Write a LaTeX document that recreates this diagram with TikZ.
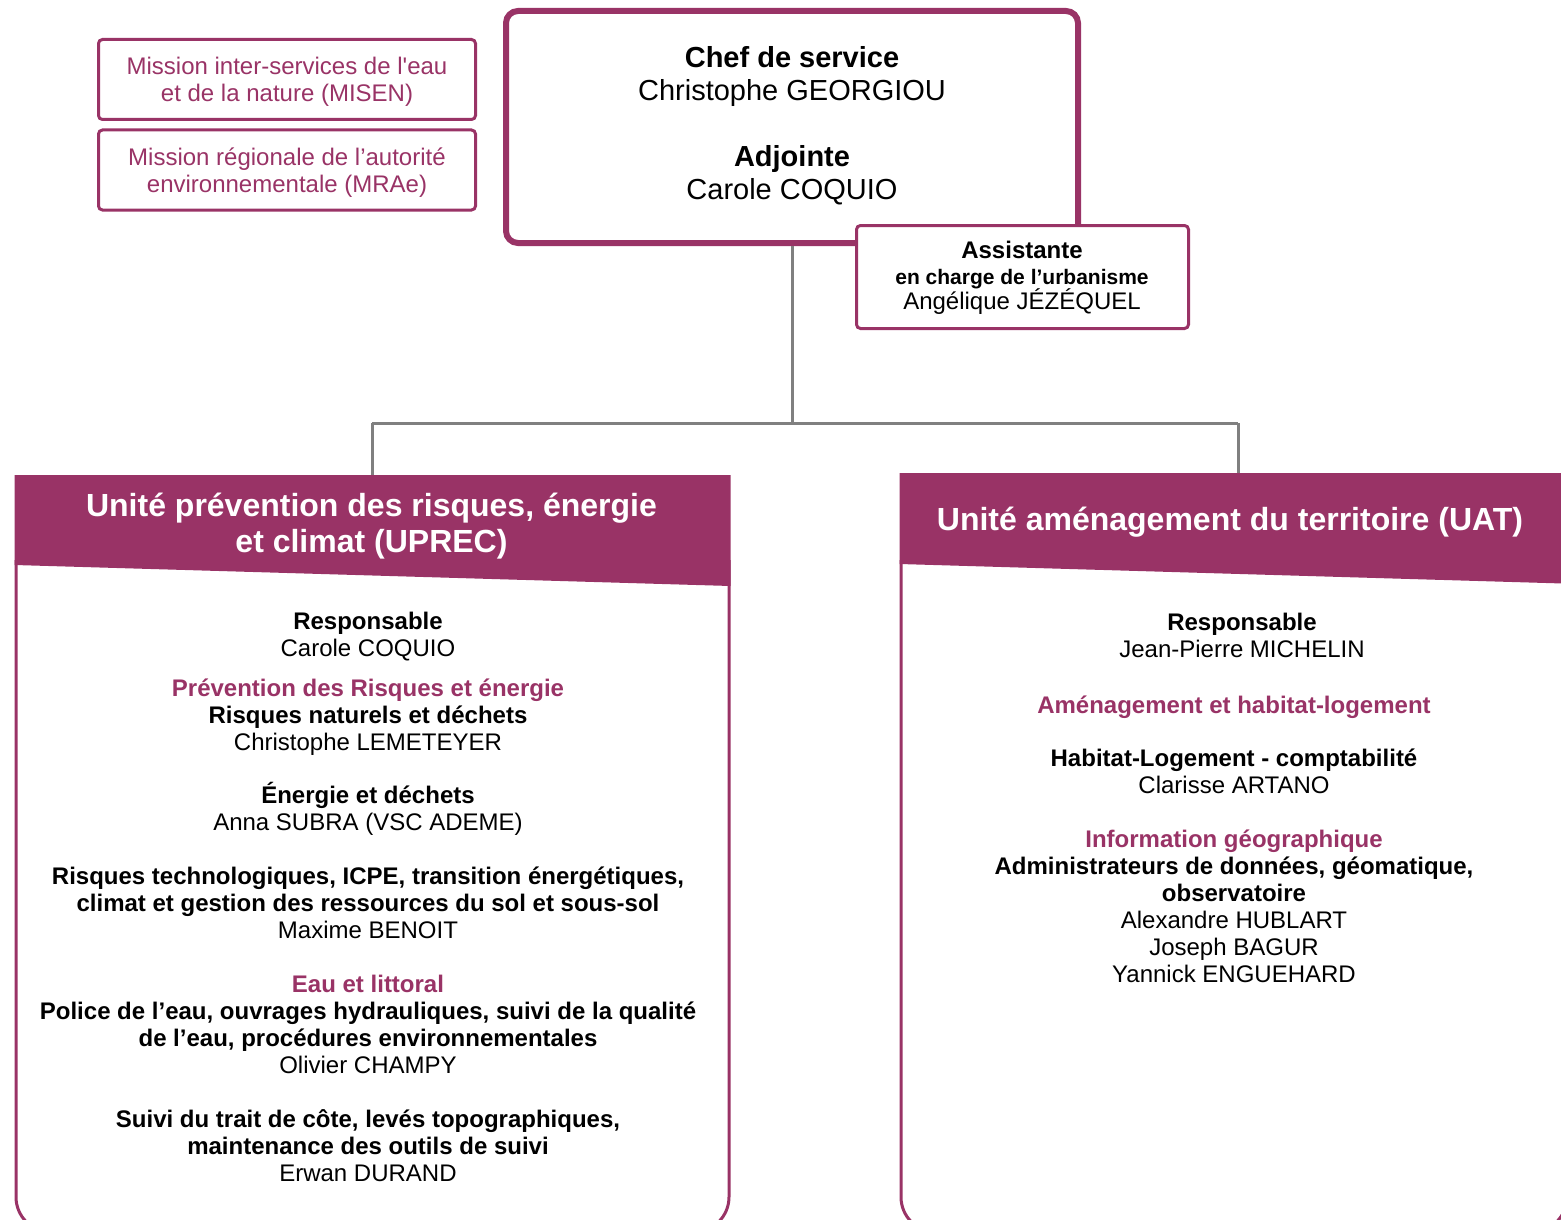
\documentclass[tikz,border=0pt]{standalone}
\usepackage{fontspec}
\setmainfont{Liberation Sans}
\definecolor{plum}{RGB}{153,51,102}
\definecolor{conn}{RGB}{128,128,128}
\newcommand\pl[1]{\textcolor{plum}{\textbf{#1}}}
\begin{document}
\begin{tikzpicture}[x=1pt,y=-1pt,
  body/.style={align=center,inner sep=0pt,font=\fontsize{24}{27}\selectfont},
  chefbody/.style={align=center,inner sep=0pt,font=\fontsize{29}{33}\selectfont},
  headtxt/.style={align=center,inner sep=0pt,text=white,font=\fontsize{32}{36}\selectfont\bfseries},
  missionbox/.style={draw=plum,line width=3pt,rounded corners=4pt,minimum width=377pt,minimum height=80pt,inner sep=0pt,
     align=center,text=plum,font=\fontsize{24}{27}\selectfont},
  connector/.style={draw=conn,line width=3pt},
  panel/.style={draw=plum,line width=3pt,rounded corners=35pt},
  header/.style={fill=plum}]
\useasboundingbox (0,0) rectangle (1561,1220);
\clip (0,0) rectangle (1561,1220);

% mission boxes
\node[missionbox] (misen) at (287,79.5) {};
\node[text=plum,align=center,inner sep=0pt,font=\fontsize{24}{27}\selectfont] (misentxt) at (287,81.5) {Mission inter-services de l\textquotesingle eau\\et de la nature (MISEN)};
\node[missionbox] (mrae) at (287,170) {};
\node[text=plum,align=center,inner sep=0pt,font=\fontsize{24}{27}\selectfont] (mraetxt) at (287,173) {Mission régionale de l’autorité\\environnementale (MRAe)};

% junction coordinates
\coordinate (j) at (792,423);
\coordinate (jl) at (372,423);
\coordinate (jr) at (1238,423);
\coordinate (uprectop) at (372,475);
\coordinate (uattop) at (1238,474);

% chef box
\node[draw=plum,line width=6pt,rounded corners=12pt,minimum width=572pt,minimum height=232pt,inner sep=0pt,fill=white] (chef) at (792,127) {};
\draw[connector] (chef.south) -- (j);
\draw[connector] (jl) -- (jr);
\draw[connector] (jl) -- (uprectop);
\draw[connector] (jr) -- (uattop);
\node[chefbody] (cheftxt) at (792,125.5) {\textbf{Chef de service}\\Christophe GEORGIOU\\[33pt]\textbf{Adjointe}\\Carole COQUIO};

% assistante
\node[draw=plum,line width=3pt,rounded corners=4pt,fill=white,minimum width=332pt,minimum height=103pt,inner sep=0pt] (asst) at (1022.5,277) {};
\node[align=center,inner sep=0pt,font=\fontsize{24}{25.5}\selectfont] (assttxt) at (1022,278) {\textbf{Assistante}\\{\fontsize{21}{25.5}\selectfont\textbf{en charge de l’urbanisme}}\\Angélique JÉZÉQUEL};

% UPREC panel
\draw[panel] (16,560) -- (16,1232) -- (729,1232) -- (729,560);
\fill[header] (14.5,475) -- (730.5,475) -- (730.5,586) -- (14.5,565) -- cycle;
\node[headtxt] (uprectitle) at (371.5,526) {Unité prévention des risques, énergie\\et climat (UPREC)};

\node[body] (u1) at (368,637) {\textbf{Responsable}\\Carole COQUIO};
\node[body] (u2) at (368,717) {\pl{Prévention des Risques et énergie}\\\textbf{Risques naturels et déchets}\\Christophe LEMETEYER};
\node[body] (u3) at (368,808.5) {\textbf{Énergie et déchets}\\Anna SUBRA (VSC ADEME)};
\node[body] (u4) at (368,903) {\textbf{Risques technologiques, ICPE, transition énergétiques,}\\\textbf{climat et gestion des ressources du sol et sous-sol}\\Maxime BENOIT};
\node[body] (u5) at (368,1024.5) {\pl{Eau et littoral}\\\textbf{Police de l’eau, ouvrages hydrauliques, suivi de la qualité}\\\textbf{de l’eau, procédures environnementales}\\Olivier CHAMPY};
\node[body] (u6) at (368,1145.5) {\textbf{Suivi du trait de côte, levés topographiques,}\\\textbf{maintenance des outils de suivi}\\Erwan DURAND};

% UAT panel
\draw[panel] (901,560) -- (901,1232) -- (1567,1232) -- (1567,560);
\fill[header] (899.5,473) -- (1580,473) -- (1580,584) -- (899.5,564) -- cycle;
\node[headtxt] (uattitle) at (1230,522) {Unité aménagement du territoire (UAT)};

\node[body] (a1) at (1242,635) {\textbf{Responsable}\\Jean-Pierre MICHELIN};
\node[body] (a2) at (1234,707) {\pl{Aménagement et habitat-logement}};
\node[body] (a3) at (1234,771.5) {\textbf{Habitat-Logement - comptabilité}\\Clarisse ARTANO};
\node[body] (a4) at (1234,906.5) {\pl{Information géographique}\\\textbf{Administrateurs de données, géomatique,}\\\textbf{observatoire}\\Alexandre HUBLART\\Joseph BAGUR\\Yannick ENGUEHARD};
\end{tikzpicture}
\end{document}
